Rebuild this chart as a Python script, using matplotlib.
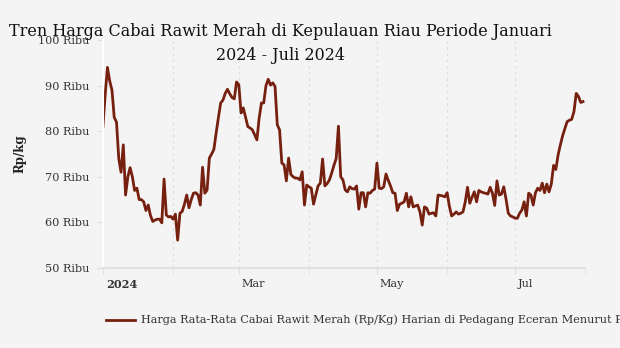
import numpy as np
import pandas as pd
import matplotlib
matplotlib.use("Agg")
import matplotlib.pyplot as plt
import matplotlib.dates as mdates
from matplotlib.lines import Line2D
from matplotlib.transforms import ScaledTranslation

# Harga harian cabai rawit merah (ribu rupiah per kg), 1 Jan - 31 Jul 2024
start_date = "2024-01-01"
harga = [
    81, 88, 94, 91, 89, 83, 82, 74, 71, 77,
    66, 70, 72, 70, 67, 67.5, 65, 65, 64.5, 62.6,
    63.8, 61.5, 60.2, 60.5, 60.7, 60.7, 59.9, 69.5, 61.6, 61.2,
    61.3, 60.7, 61.8, 56.1, 62, 62.4, 64, 66, 63.2, 65,
    66.4, 66.5, 66, 63.8, 72.1, 66.4, 67.1, 74.1, 75, 76,
    79.6, 83, 86.2, 86.8, 88.3, 89.2, 88.2, 87.4, 87.1, 90.8,
    90.2, 84, 85.1, 83, 81, 80.7, 80.3, 79.2, 78.1, 82.9,
    86.2, 86.2, 90, 91.4, 90.1, 90.6, 89.8, 81.4, 80.3, 73,
    72.6, 69.1, 74.1, 70.5, 70, 69.7, 69.7, 69.3, 71.1, 63.8,
    68.2, 67.8, 67.5, 64, 66, 68, 68.6, 73.9, 68, 68.5,
    69.3, 70.8, 72.5, 74, 81.1, 70, 69.3, 67.1, 66.7, 67.8,
    67.4, 67.3, 68, 62.9, 66.5, 66.5, 63.4, 66.5, 66.4, 67,
    67.3, 73, 67.5, 67.4, 67.8, 70.6, 69.2, 68, 66.5, 66.4,
    62.6, 64, 64.2, 64.5, 66.4, 63.4, 65.6, 63.4, 63.6, 63.8,
    62.3, 59.4, 63.4, 63.1, 61.8, 62, 62.1, 61.4, 66, 65.9,
    65.8, 65.6, 66.5, 63.5, 61.4, 61.8, 62.3, 61.8, 62, 62.3,
    64.5, 67.7, 64.2, 65.5, 66.7, 64.5, 67, 66.7, 66.5, 66.4,
    66.2, 67.7, 66.4, 63.7, 69.1, 66, 66.2, 67.8, 65.1, 62,
    61.4, 61.2, 60.9, 60.9, 62, 62.7, 64.5, 61.4, 66.4, 66,
    63.8, 66.5, 67.5, 67, 68.6, 66.5, 68.4, 66.7, 68.4, 72.5,
    71.6, 74.8, 77, 79, 80.6, 82.1, 82.4, 82.6, 84.3, 88.3,
    87.6, 86.3, 86.5,
]
y_ticks = [50, 60, 70, 80, 90, 100]
y_tick_labels = [f"{v} Ribu" for v in y_ticks]
x_tick_dates = ["2024-01-01", "2024-03-01", "2024-05-01", "2024-07-01"]
x_tick_labels = ["2024", "Mar", "May", "Jul"]

judul = "Tren Harga Cabai Rawit Merah di Kepulauan Riau Periode Januari\n2024 - Juli 2024"
nama_seri = ("Harga Rata-Rata Cabai Rawit Merah (Rp/Kg) Harian di Pedagang "
             "Eceran Menurut Provinsi")

BG = "#f4f4f4"
LINE = "#76200f"
TEXT = "#333333"

plt.rcParams["font.family"] = ["DejaVu Serif"]

tanggal = pd.date_range(start_date, periods=len(harga), freq="D")

fig = plt.figure(figsize=(6.2, 3.48), dpi=100, facecolor=BG)
ax = fig.add_axes([0.166, 0.230, 0.778, 0.655], facecolor=BG)

ax.plot(tanggal, harga, color=LINE, linewidth=2.0, solid_joinstyle="round")

ax.set_xlim(pd.Timestamp("2024-01-01"), pd.Timestamp("2024-08-01"))
ax.set_ylim(50, 100)

# sumbu y
ax.set_yticks(y_ticks)
ax.set_yticklabels(y_tick_labels, fontsize=8.1, color=TEXT)
ax.tick_params(axis="y", length=4, color="#e0e0e0", pad=6)
ax.set_ylabel("Rp/kg", fontsize=8.5, fontweight="bold", color="#222222", labelpad=8)

# sumbu x: grid putus-putus tiap bulan, label tiap dua bulan
ax.xaxis.set_minor_locator(mdates.MonthLocator())
ax.set_xticks(pd.to_datetime(x_tick_dates))
ax.set_xticklabels(x_tick_labels, fontsize=8.1, color=TEXT, ha="left")
ax.get_xticklabels()[0].set_fontweight("bold")
ax.tick_params(axis="x", which="both", length=4, color="#e0e0e0", pad=4)
offset = ScaledTranslation(3 / 100, 0, fig.dpi_scale_trans)
for lbl in ax.get_xticklabels():
    lbl.set_transform(lbl.get_transform() + offset)

ax.grid(axis="x", which="both", linestyle=(0, (2, 3)), color="#dddddd", linewidth=0.9)
ax.grid(axis="y", visible=False)
ax.set_axisbelow(True)

for side in ["top", "right"]:
    ax.spines[side].set_visible(False)
ax.spines["left"].set_color("white")
ax.spines["left"].set_linewidth(1.5)
ax.spines["bottom"].set_color("#e0e0e0")
ax.spines["bottom"].set_linewidth(1.5)

fig.text(0.452, 0.933, judul, ha="center", va="top", fontsize=11.5,
         color="#111111", linespacing=1.5)

handle = Line2D([], [], color=LINE, linewidth=2.0)
fig.legend([handle], [nama_seri], loc="center left",
           bbox_to_anchor=(0.155, 0.08), frameon=False, fontsize=8.1,
           handlelength=2.6, handletextpad=0.5, labelcolor=TEXT)

fig.savefig("out.png", dpi=100, facecolor=BG)
